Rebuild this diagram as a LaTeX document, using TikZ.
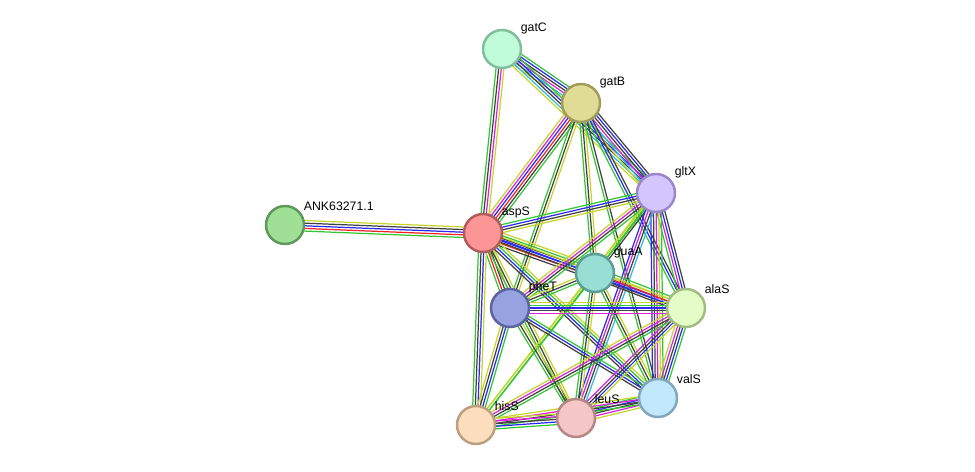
\documentclass[tikz,border=0pt]{standalone}
\usepackage{fontspec}
\setmainfont{Liberation Sans}
\usetikzlibrary{calc}
\pgfdeclarelayer{background}
\pgfsetlayers{background,main}

% Màu các loại liên kết
\definecolor{ctm}{HTML}{C6D52B}
\definecolor{cnb}{HTML}{33C633}
\definecolor{cco}{HTML}{404040}
\definecolor{cocc}{HTML}{2A2AF5}
\definecolor{cfus}{HTML}{F52424}
\definecolor{cexp}{HTML}{DD22DD}
\definecolor{cdb}{HTML}{2FBBE0}

% Màu các nút
\definecolor{gatCf}{HTML}{C0FCDA}\definecolor{gatCd}{HTML}{80BE9C}
\definecolor{gatBf}{HTML}{E0DC96}\definecolor{gatBd}{HTML}{A09C5C}
\definecolor{gltXf}{HTML}{D4C6FC}\definecolor{gltXd}{HTML}{9A88CC}
\definecolor{ankf}{HTML}{A0E096}\definecolor{ankd}{HTML}{5E985A}
\definecolor{aspSf}{HTML}{FC9696}\definecolor{aspSd}{HTML}{B05C5C}
\definecolor{guaAf}{HTML}{98DED4}\definecolor{guaAd}{HTML}{5A9E96}
\definecolor{pheTf}{HTML}{98A2E0}\definecolor{pheTd}{HTML}{5A64A0}
\definecolor{alaSf}{HTML}{E4FCC6}\definecolor{alaSd}{HTML}{A0BC82}
\definecolor{valSf}{HTML}{C2E8FC}\definecolor{valSd}{HTML}{80A6C0}
\definecolor{hisSf}{HTML}{FCDEBE}\definecolor{hisSd}{HTML}{BC9E80}
\definecolor{leuSf}{HTML}{F4C6C6}\definecolor{leuSd}{HTML}{B48686}

\tikzset{
  protein/.style={circle, minimum size=0.76cm, inner sep=0pt, line width=1.4pt},
  plabel/.style={anchor=south west, inner sep=0.3pt, font=\fontsize{7}{8}\selectfont},
  edge/.style={line width=0.7pt},
}

% Một bó đường song song giữa hai nút
\newcommand\biglink[3]{%
  \foreach \c [count=\i] in {#3} {\xdef\nlines{\i}}
  \foreach \c [count=\i] in {#3} {
    \pgfmathsetmacro\off{(\i-(\nlines+1)/2)*1.5}
    \draw[edge, draw=\c] ($(#1.center)!\off pt!90:(#2.center)$) -- ($(#2.center)!\off pt!-90:(#1.center)$);
  }}

\begin{document}
\begin{tikzpicture}[x=0.02cm, y=-0.02cm]
    \useasboundingbox (0,0) rectangle (975,471);

    % Các nút protein
    \foreach \id/\txt/\px/\py in {gatC/gatC/502/49, gatB/gatB/581/103, gltX/gltX/656/193,
        ank/ANK63271.1/285/225, aspS/aspS/483/233, guaA/guaA/595/273, pheT/pheT/510/308,
        alaS/alaS/686/308, valS/valS/658/398, hisS/hisS/476/425, leuS/leuS/576/418} {
      \node[protein, draw=\id d, fill=\id f] (\id) at (\px,\py) {};
      \node[plabel] (l-\id) at ([shift={(18,-14)}]\id.center) {\txt};
    }

    % Các liên kết
    \begin{pgfonlayer}{background}
    \biglink{ank}{aspS}{cnb,cfus,cocc,cco,ctm}
    \biglink{gatC}{aspS}{cnb,cco,cexp,ctm}
    \biglink{gatC}{gatB}{ctm,cdb,cexp,cco,cocc,cnb}
    \biglink{gatC}{gltX}{ctm,cdb,cco,cocc,cnb}
    \biglink{gatB}{aspS}{ctm,cexp,cocc,cfus,cco,cnb}
    \biglink{gatB}{pheT}{cnb,cco,ctm}
    \biglink{gatB}{guaA}{cnb,cco,ctm}
    \biglink{gatB}{gltX}{ctm,cdb,cexp,cco,cocc,cco}
    \biglink{gatB}{alaS}{cnb,cocc,cco}
    \biglink{gatB}{valS}{cnb,cco}
    \biglink{aspS}{gltX}{ctm,cco,cocc,cnb}
    \biglink{aspS}{guaA}{cco,cfus,cocc,cco,cnb,ctm}
    \biglink{aspS}{alaS}{cco,cocc,ctm}
    \biglink{aspS}{pheT}{cnb,cfus,cco,ctm}
    \biglink{aspS}{hisS}{cnb,cco,cocc,ctm}
    \biglink{aspS}{leuS}{cnb,cco,ctm}
    \biglink{aspS}{valS}{cco,cocc,cnb,ctm}
    \biglink{gltX}{guaA}{ctm,cnb,cco}
    \biglink{gltX}{pheT}{ctm,cexp,cco,cnb}
    \biglink{gltX}{alaS}{cnb,cexp,cocc,cco}
    \biglink{gltX}{valS}{cocc,cco,cexp,ctm,cnb}
    \biglink{gltX}{leuS}{cocc,cexp,cco,cdb}
    \biglink{gltX}{hisS}{ctm,cnb}
    \biglink{guaA}{pheT}{ctm,cco,cnb}
    \biglink{guaA}{alaS}{cco,cocc,cfus,ctm,cnb}
    \biglink{guaA}{valS}{cnb,cco,ctm}
    \biglink{guaA}{leuS}{cnb,cco,ctm}
    \biglink{guaA}{hisS}{ctm,cnb}
    \biglink{pheT}{alaS}{cexp,cco,cocc,cnb,ctm}
    \biglink{pheT}{valS}{cco,cocc,cnb}
    \biglink{pheT}{leuS}{cnb,cco,ctm}
    \biglink{pheT}{hisS}{ctm,cco,cocc,cnb}
    \biglink{alaS}{valS}{ctm,cexp,cco,cocc,cnb}
    \biglink{alaS}{leuS}{cexp,cco,cocc,ctm}
    \biglink{alaS}{hisS}{ctm,cexp,cco,cnb}
    \biglink{valS}{leuS}{cnb,cocc,cco,cexp,ctm}
    \biglink{valS}{hisS}{ctm,cexp,cco,cnb}
    \biglink{hisS}{leuS}{cnb,cocc,cco,cexp,ctm}
    \end{pgfonlayer}
\end{tikzpicture}
\end{document}
